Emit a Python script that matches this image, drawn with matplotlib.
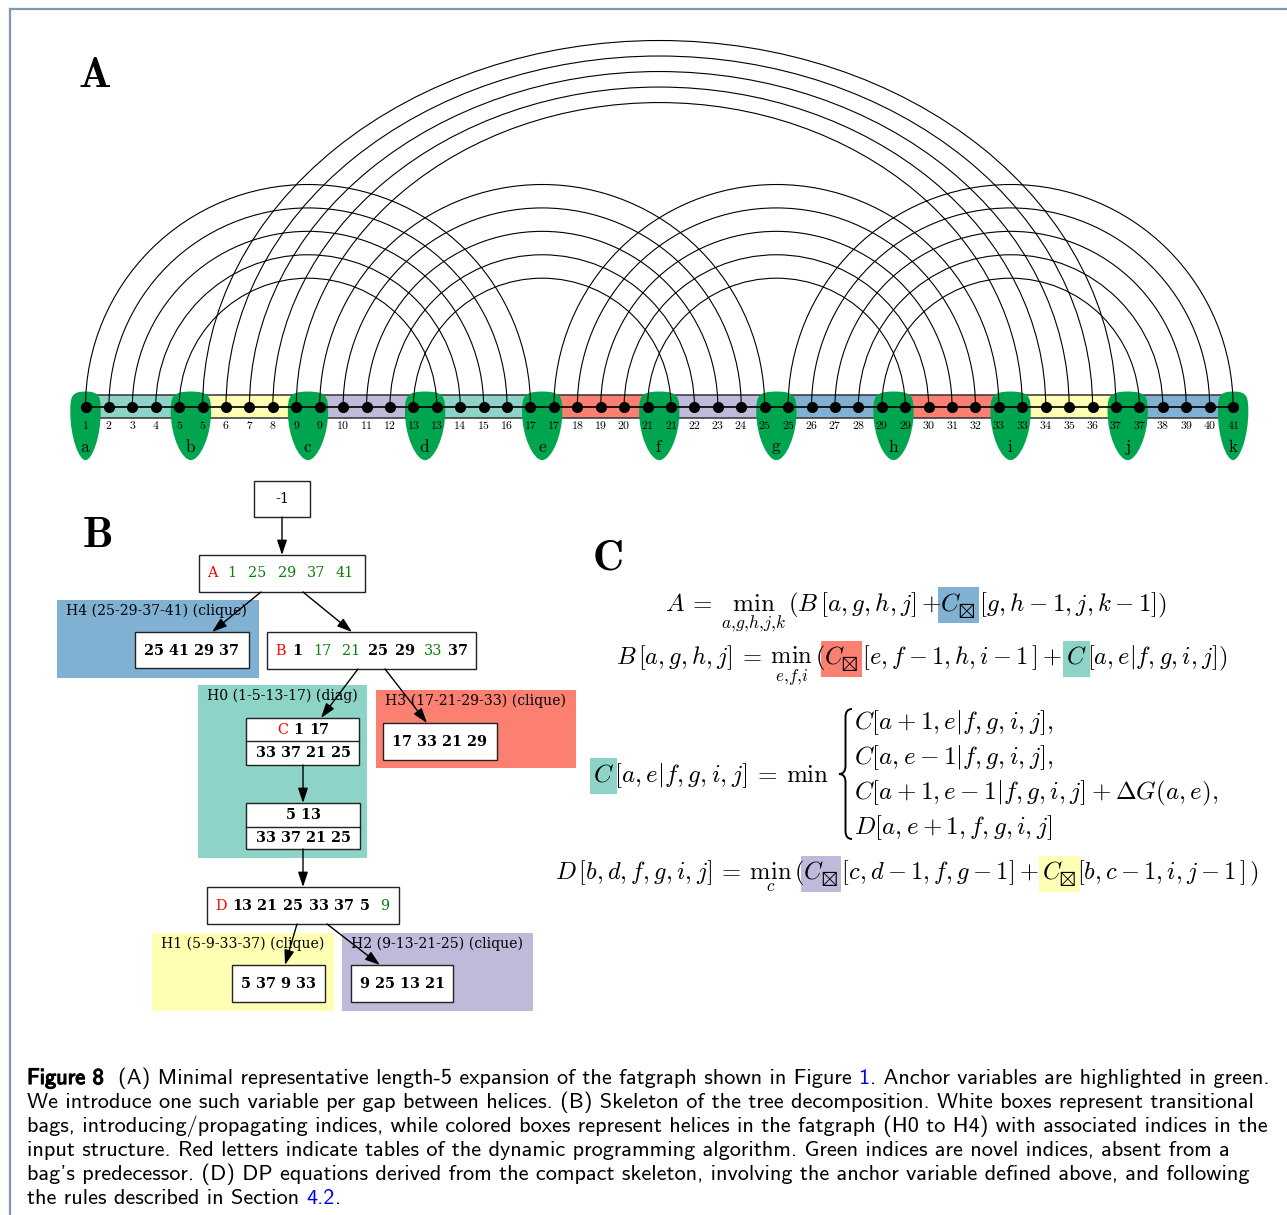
import os
import numpy as np
import matplotlib
matplotlib.use('Agg')
import matplotlib.pyplot as plt
from matplotlib.path import Path
from matplotlib.patches import PathPatch, Rectangle, Arc
from matplotlib.font_manager import FontProperties
import matplotlib.patheffects as pe

plt.rcParams['mathtext.fontset'] = 'cm'

# ---------------- data ----------------
# length-5 expansion: anchor positions appear twice
seq = [1, 2, 3, 4, 5, 5, 6, 7, 8, 9, 9, 10, 11, 12, 13, 13, 14, 15, 16, 17,
       17, 18, 19, 20, 21, 21, 22, 23, 24, 25, 25, 26, 27, 28, 29, 29, 30, 31,
       32, 33, 33, 34, 35, 36, 37, 37, 38, 39, 40, 41]

helix_names = ['H0', 'H1', 'H2', 'H3', 'H4']
helix_kind = ['diag', 'clique', 'clique', 'clique', 'clique']
helix_colors = ['#8dd3c7', '#ffffb3', '#bebada', '#fb8072', '#80b1d3']
# strands as (first, last) index into seq
helix_strands = [[(0, 4), (15, 19)],
                 [(5, 9), (40, 44)],
                 [(10, 14), (25, 29)],
                 [(20, 24), (35, 39)],
                 [(30, 34), (45, 49)]]

anchor_names = list('abcdefghijk')
anchor_pos = [[0], [4, 5], [9, 10], [14, 15], [19, 20], [24, 25],
              [29, 30], [34, 35], [39, 40], [44, 45], [49]]

# tree decomposition bags, 'r:' red table letter, 'g:' new index, 'k:' bold index
bag_root = ['n:-1']
bag_A = ['r:A', 'g:1', 'g:25', 'g:29', 'g:37', 'g:41']
bag_B = ['r:B', 'k:1', 'g:17', 'g:21', 'k:25', 'k:29', 'g:33', 'k:37']
bag_C = ['r:C', 'k:1', 'k:17']
bag_C_low = '33 37 21 25'
bag_C2 = ['5 13', '33 37 21 25']
bag_D = ['r:D', 'k:13', 'k:21', 'k:25', 'k:33', 'k:37', 'k:5', 'g:9']

# DP equations (latex piece, highlight helix or None)
eq_A = [(r'A \:=\: \min_{a{,}g{,}h{,}j{,}k}\,(B\,[a,g,h,j]\,+', None), (r'C_{\boxtimes}', 4),
        (r'[g,h-1,j,k-1])', None)]
eq_B = [(r'B\,[a,g,h,j] \:=\: \min_{e{,}f{,}i}\,(', None), (r'C_{\boxtimes}', 3),
        (r'[e,f-1,h,i-1\,]+', None), (r'C', 0), (r'\,[a,e|f,g,i,j])', None)]
eq_C = [(r'C', 0), (r'\,[a,e|f,g,i,j] \:=\: \min', None)]
eq_C_cases = [r'C[a+1,e|f,g,i,j],', r'C[a,e-1|f,g,i,j],',
              r'C[a+1,e-1|f,g,i,j]+\Delta G(a,e),', r'D[a,e+1,f,g,i,j]']
eq_D = [(r'D\,[b,d,f,g,i,j] \:=\: \min_{c}\,(', None), (r'C_{\boxtimes}', 2),
        (r'[c,d-1,f,g-1]+', None), (r'C_{\boxtimes}', 1),
        (r'[b,c-1,i,j-1\,]\,)', None)]

LINK = '#0000ee'
caption = [
    [('Figure 8  ', 'k', True),
     ('(A) Minimal representative length-5 expansion of the fatgraph shown in Figure ', 'k', False),
     ('1', LINK, False), ('. Anchor variables are highlighted in green.', 'k', False)],
    [('We introduce one such variable per gap between helices. (B) Skeleton of the tree decomposition. White boxes represent transitional', 'k', False)],
    [('bags, introducing/propagating indices, while colored boxes represent helices in the fatgraph (H0 to H4) with associated indices in the', 'k', False)],
    [('input structure. Red letters indicate tables of the dynamic programming algorithm. Green indices are novel indices, absent from a', 'k', False)],
    [("bag's predecessor. (D) DP equations derived from the compact skeleton, involving the anchor variable defined above, and following", 'k', False)],
    [('the rules described in Section ', 'k', False), ('4.2', LINK, False), ('.', 'k', False)],
]

# ---------------- figure ----------------
W, H = 1287, 1215
fig = plt.figure(figsize=(W / 100, H / 100), dpi=100)
ax = fig.add_axes([0, 0, 1, 1])
ax.set_xlim(0, W)
ax.set_ylim(H, 0)
ax.axis('off')
r = fig.canvas.get_renderer()

frame = '#7f98b8'
ax.plot([10, W], [9, 9], color=frame, lw=1.6)
ax.plot([10, 10], [9, H], color=frame, lw=1.6)

# ---- panel A (x in sequence positions, equal aspect)
DX, X0, YB = 23.42, 85.5, 407
axa = fig.add_axes([10 / W, (H - 475) / H, (W - 10) / W, 465 / H])
axa.set_xlim((10 - X0) / DX, (W - X0) / DX)
axa.set_ylim(-(475 - YB) / DX, (YB - 10) / DX)
axa.axis('off')

n = len(seq)
for h, strands in enumerate(helix_strands):
    for s, e in strands:
        x0, x1 = max(s - 0.5, 0), min(e + 0.5, n - 1)
        axa.add_patch(Rectangle((x0, -0.47), x1 - x0, 0.98, fc=helix_colors[h],
                                ec='none', zorder=1))
axa.plot([0, n - 1], [0.51, 0.51], color='#333333', lw=1.1, zorder=1.5)
axa.plot([0, n - 1], [-0.47, -0.47], color='#333333', lw=1.1, zorder=1.5)


def blob(cx, w, top, bot):
    hw, hh = w / 2, top - bot
    verts = [(cx, top),
             (cx + hw * 0.95, top), (cx + hw, top - 0.08 * hh), (cx + hw, top - 0.3 * hh),
             (cx + hw, top - 0.65 * hh), (cx + hw * 0.45, bot), (cx, bot),
             (cx - hw * 0.45, bot), (cx - hw, top - 0.65 * hh), (cx - hw, top - 0.3 * hh),
             (cx - hw, top - 0.08 * hh), (cx - hw * 0.95, top), (cx, top)]
    codes = [Path.MOVETO] + [Path.CURVE4] * 12
    return PathPatch(Path(verts, codes), fc='#00a64f', ec='none', zorder=2)


for name, pos in zip(anchor_names, anchor_pos):
    cx = np.mean(pos)
    w = 1.3 if len(pos) == 1 else 1.72
    axa.add_patch(blob(cx, w, 0.66, -2.27))
    axa.text(cx, -1.72, r'$\mathrm{%s}$' % name, fontsize=12.5, ha='center',
             va='center', zorder=6)


def arc_height(half):
    # long arcs are flattened
    return half if half <= 10 else 2.73 + 0.6625 * half


for strands in helix_strands:
    (s1, e1), (s2, e2) = strands
    for k in range(e1 - s1 + 1):
        i, j = s1 + k, e2 - k
        a = (j - i) / 2
        axa.add_patch(Arc(((i + j) / 2, 0), 2 * a, 2 * arc_height(a), theta1=0,
                          theta2=180, color='black', lw=0.8, zorder=3))

xs = np.arange(n)
axa.plot(xs, np.zeros(n), color='black', lw=1.2, zorder=3)
axa.plot(xs, np.zeros(n), 'o', color='black', ms=7, zorder=4)
for i, v in enumerate(seq):
    axa.text(i, -0.81, r'$%d$' % v, fontsize=8.5, ha='center', va='center', zorder=6)

ax.text(95, 75, r'$\mathbf{A}$', fontsize=31, ha='center', va='center')
ax.text(97, 535, r'$\mathbf{B}$', fontsize=31, ha='center', va='center')
ax.text(607, 557, r'$\mathbf{C}$', fontsize=31, ha='center', va='center')

# ---- panel B (tree decomposition)
RED, GREEN = '#ff0000', '#0b7d0b'
serif = 'DejaVu Serif'
tsize = 10.4

regions = {'H4': (57, 600, 259, 678), 'H0': (198, 685, 367, 858),
           'H3': (376, 690, 576, 768), 'H1': (152, 933, 334, 1011),
           'H2': (342, 933, 533, 1011)}
helix_boxes = {'H4': (135, 632, 249, 668), 'H3': (383, 723, 497, 760),
               'H1': (232, 965, 325, 1002), 'H2': (351, 965, 453, 1002)}

for h, name in enumerate(helix_names):
    x0, y0, x1, y1 = regions[name]
    ax.add_patch(Rectangle((x0, y0), x1 - x0, y1 - y0, fc=helix_colors[h], ec='none', zorder=1))
    (s1, e1), (s2, e2) = helix_strands[h]
    idx = '-'.join(str(seq[i]) for i in (s1, e1, s2, e2))
    ax.text(x0 + 9, y0 + 11, f'{name} ({idx}) ({helix_kind[h]})', family=serif,
            fontsize=10.1, ha='left', va='center', zorder=2)
    if name in helix_boxes:
        bx0, by0, bx1, by1 = helix_boxes[name]
        ax.add_patch(Rectangle((bx0, by0), bx1 - bx0, by1 - by0, fc='white',
                               ec='#222222', lw=1, zorder=3))
        label = ' '.join(str(seq[i]) for i in (s1, e2, e1, s2))
        ax.text((bx0 + bx1) / 2, (by0 + by1) / 2 + 1, label, family=serif,
                fontsize=tsize, weight='bold', ha='center', va='center', zorder=4)


def white_box(x0, y0, x1, y1, div=None):
    ax.add_patch(Rectangle((x0, y0), x1 - x0, y1 - y0, fc='white', ec='#222222',
                           lw=1, zorder=3))
    if div is not None:
        ax.plot([x0, x1], [div, div], color='#222222', lw=1, zorder=3)


def tokens(bag, xs_, y):
    for tok, x in zip(bag, xs_):
        kind, txt = tok.split(':')
        col = {'r': RED, 'g': GREEN}.get(kind, 'black')
        wt = 'bold' if kind == 'k' else 'normal'
        ax.text(x, y, txt, color=col, weight=wt, family=serif, fontsize=tsize,
                ha='center', va='center', zorder=4)


white_box(254, 481, 310, 517)
tokens(bag_root, [282], 499)
white_box(199, 555, 365, 592)
tokens(bag_A, [212, 232, 257, 287, 316, 345], 573)
white_box(267, 632, 476, 669)
tokens(bag_B, [281, 297, 322, 351, 378, 405, 433, 458], 651)
white_box(246, 718, 359, 765, div=741)
tokens(bag_C, [283, 298, 319], 730)
ax.text(303, 753, bag_C_low, family=serif, fontsize=tsize, weight='bold',
        ha='center', va='center', zorder=4)
white_box(246, 803, 360, 849, div=827)
ax.text(303, 815, bag_C2[0], family=serif, fontsize=tsize, weight='bold',
        ha='center', va='center', zorder=4)
ax.text(303, 838, bag_C2[1], family=serif, fontsize=tsize, weight='bold',
        ha='center', va='center', zorder=4)
white_box(207, 887, 399, 924)
tokens(bag_D, [221, 242, 267, 293, 319, 344, 365, 385], 906)

edges = [((282, 517), (282, 555)), ((261, 592), (212, 632)),
         ((303, 592), (352, 632)), ((358, 669), (321, 718)),
         ((385, 669), (427, 723)), ((303, 765), (303, 803)),
         ((303, 849), (303, 887)), ((297, 924), (285, 965)),
         ((327, 924), (380, 965))]
for start, end in edges:
    ax.annotate('', xy=end, xytext=start, zorder=5,
                arrowprops=dict(arrowstyle='-|>,head_length=0.9,head_width=0.3',
                                color='black', lw=1, shrinkA=0, shrinkB=0))


# ---- panel C (equations)
def text_w(s, **kw):
    t = ax.text(0, 0, s, **kw)
    w = t.get_window_extent(r).width
    t.remove()
    return w


def fit_size(s, target, base=14, **kw):
    return base * target / text_w(s, fontsize=base, **kw)


def equation(pieces, x, y, size=None, target=None, ha='left'):
    full = '$' + ''.join(p for p, _ in pieces) + '$'
    if size is None:
        size = fit_size(full, target)
    total = text_w(full, fontsize=size)
    if ha == 'right':
        x = x - total
    ax.text(x, y, full, fontsize=size, ha='left', va='baseline', zorder=5)
    acc = ''
    for p, hl in pieces:
        acc += p
        if hl is not None:
            right = x + text_w('$' + acc + '$', fontsize=size)
            left = right - text_w('$' + p + '$', fontsize=size)
            ax.add_patch(Rectangle((left - 3, y - 24), right - left + 6, 36,
                                   fc=helix_colors[hl], ec='none', zorder=1))
    return size


equation(eq_A, 665, 611, target=503)
equation(eq_B, 616, 665, target=612)
equation(eq_D, 555, 880, target=705)
case_size = fit_size('$' + eq_C_cases[2] + '$', 365)
for k, line in enumerate(eq_C_cases):
    ax.text(854, 729 + 35 * k, '$' + line + '$', fontsize=case_size, ha='left',
            va='baseline', zorder=5)
equation(eq_C, 829, 782, size=case_size, ha='right')

# curly brace of the cases
bx, bw, yt, yb = 839, 13, 709, 839
ym, rr = (yt + yb) / 2, 8
verts = [(bx + bw, yt), (bx + bw / 2, yt), (bx + bw / 2, yt + rr),
         (bx + bw / 2, ym - rr), (bx + bw / 2, ym), (bx, ym),
         (bx + bw / 2, ym), (bx + bw / 2, ym + rr),
         (bx + bw / 2, yb - rr), (bx + bw / 2, yb), (bx + bw, yb)]
codes = [Path.MOVETO, Path.CURVE3, Path.CURVE3, Path.LINETO, Path.CURVE3,
         Path.CURVE3, Path.CURVE3, Path.CURVE3, Path.LINETO, Path.CURVE3, Path.CURVE3]
ax.add_patch(PathPatch(Path(verts, codes), fc='none', ec='black', lw=1.4, zorder=5))

# ---- caption
cmss = FontProperties(fname=os.path.join(matplotlib.get_data_path(), 'fonts', 'ttf', 'cmss10.ttf'))
first = ''.join(p for p, _, _ in caption[0])
csize = 12 * 1250 / text_w(first, fontproperties=cmss, fontsize=12)
for k, line in enumerate(caption):
    y = 1084 + 24 * k
    acc = ''
    for p, col, bold in line:
        acc += p
        x = 27 + text_w(acc, fontproperties=cmss, fontsize=csize) - \
            text_w(p, fontproperties=cmss, fontsize=csize)
        t = ax.text(x, y, p, fontproperties=cmss, fontsize=csize, color=col,
                    ha='left', va='baseline')
        if bold:
            t.set_path_effects([pe.withStroke(linewidth=0.9, foreground=col)])

fig.savefig('out.png', dpi=100)
